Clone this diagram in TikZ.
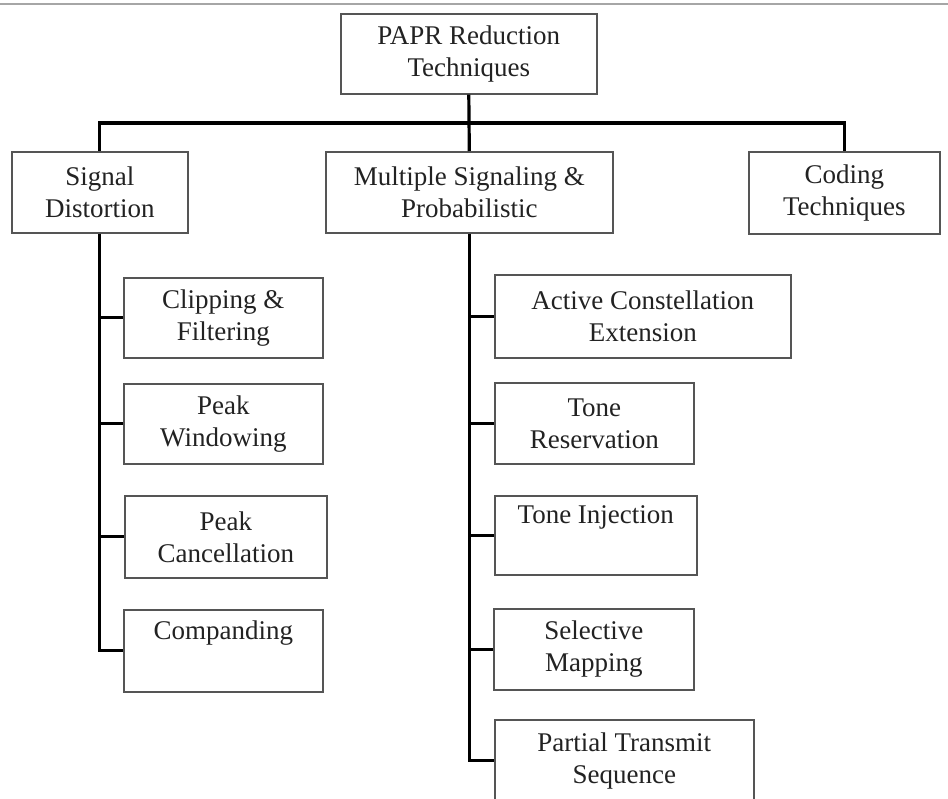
\documentclass[tikz,border=0pt]{standalone}
\usepackage{fontspec}
\setmainfont{Liberation Serif}
\begin{document}
\begin{tikzpicture}[x=1pt,y=-1pt,
  box/.style={draw=boxgray, line width=1.6pt, inner sep=0pt, align=center,
    anchor=north west, text=textgray, font=\fontsize{27}{32}\selectfont},
  link/.style={draw=black, line width=3.2pt}]
\definecolor{boxgray}{HTML}{555555}
\definecolor{textgray}{HTML}{222222}
\useasboundingbox (0,0) rectangle (948,799);
\clip (0,0) rectangle (948,799);
% thin rule along the top edge
\draw[draw=gray!70, line width=1.2pt] (0,4) -- (948,4);

% root and first level
\node[box, minimum width=256pt, minimum height=80pt] (top) at (340,13) {PAPR Reduction\\Techniques};
\node[box, minimum width=176pt, minimum height=81pt] (sd) at (11,151) {Signal\\Distortion};
\node[box, minimum width=287pt, minimum height=81pt] (ms) at (325,151) {Multiple Signaling \&\\Probabilistic};
\node[box, minimum width=191pt, minimum height=82pt] (ct) at (748,151) {Coding\\Techniques};

% signal distortion methods
\node[box, minimum width=199pt, minimum height=80pt] (cf) at (123,277) {Clipping \&\\Filtering};
\node[box, minimum width=199pt, minimum height=80pt] (pw) at (123,383) {Peak\\Windowing};
\node[box, minimum width=202pt, minimum height=82pt] (pc) at (124,495) {Peak\\Cancellation};
\node[box, minimum width=199pt, minimum height=82pt] (cp) at (123,609) {Companding\\\strut};

% multiple signaling and probabilistic methods
\node[box, minimum width=296pt, minimum height=83pt] (ace) at (494,274) {Active Constellation\\Extension};
\node[box, minimum width=199pt, minimum height=81pt] (tr) at (494,382) {Tone\\Reservation};
\node[box, minimum width=202pt, minimum height=79pt] (ti) at (494,495) {Tone Injection\\\strut};
\node[box, minimum width=200pt, minimum height=81pt] (sm) at (493,608) {Selective\\Mapping};
\node[box, minimum width=259pt, minimum height=82pt] (pts) at (494,719) {Partial Transmit\\Sequence};

% tree connectors
\coordinate (bus) at (468,123);
\draw[link] (top.south) -- (ms.north);
\draw[link] (sd.north) |- (bus) -| (ct.north);

\draw[link] (sd.south) |- (cp.west);
\draw[link] (cf.west) -- (cf.west -| sd.south);
\draw[link] (pw.west) -- (pw.west -| sd.south);
\draw[link] (pc.west) -- (pc.west -| sd.south);

\draw[link] (ms.south) |- (pts.west);
\draw[link] (ace.west) -- (ace.west -| ms.south);
\draw[link] (tr.west) -- (tr.west -| ms.south);
\draw[link] (ti.west) -- (ti.west -| ms.south);
\draw[link] (sm.west) -- (sm.west -| ms.south);
\end{tikzpicture}
\end{document}
